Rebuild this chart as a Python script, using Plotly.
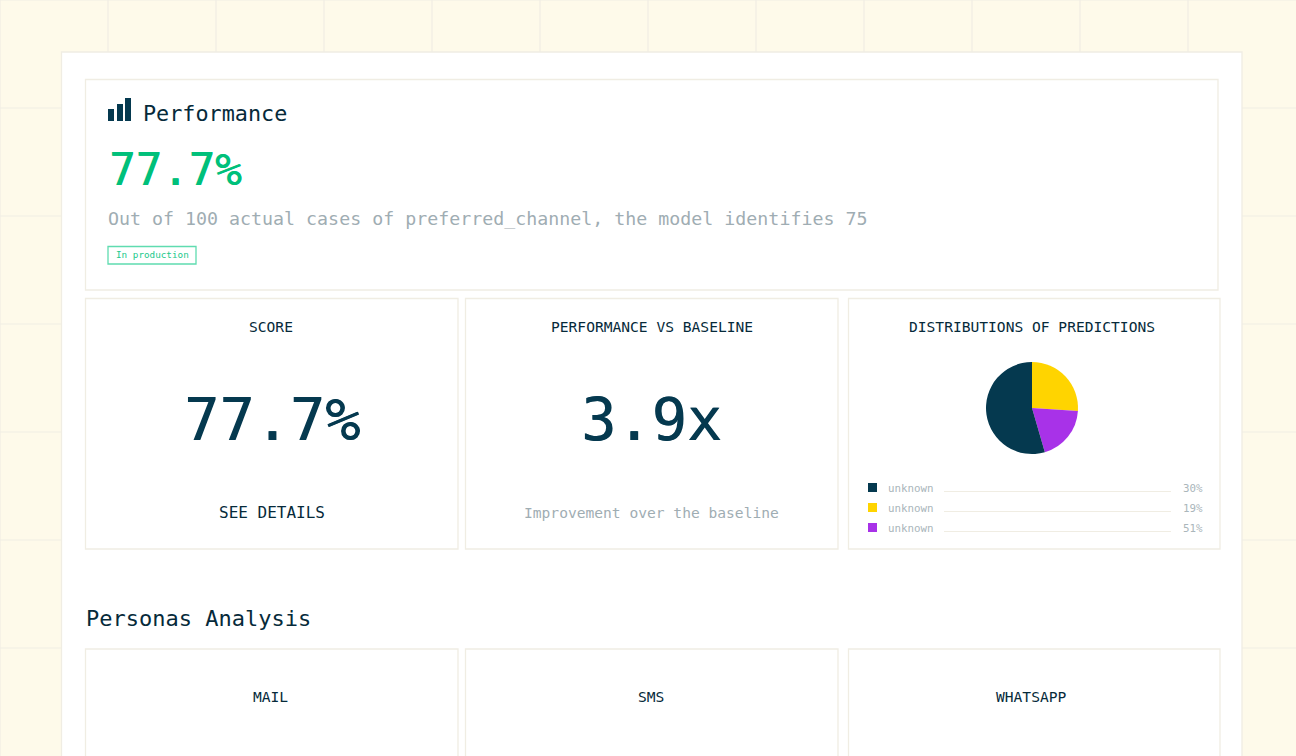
import plotly.graph_objects as go

W, H = 1296, 756
MONO = "DejaVu Sans Mono"

NAVY = "#05394f"
INK = "#062a3a"
GREEN = "#00c07a"
GREY = "#9fadb3"
PALE = "#aab6bb"
EDGE = "#f0ede3"
PAPER = "#fefaea"

# pie as drawn, clockwise from 12 o'clock
pie_labels = ["yellow", "purple", "navy"]
pie_values = [26, 19.5, 54.5]
pie_colors = ["#ffd400", "#a832e8", NAVY]

# legend below the pie (printed numbers do not match the slices in the original)
legend_names = ["unknown", "unknown", "unknown"]
legend_pcts = ["30%", "19%", "51%"]
legend_colors = [NAVY, "#ffd400", "#a832e8"]

persona_titles = ["MAIL", "SMS", "WHATSAPP"]

cards = [(85, 79, 1218, 290),
         (85, 298, 458, 549), (465, 298, 838, 549), (848, 298, 1220, 549),
         (85, 648.5, 458, 800), (465, 648.5, 838, 800), (848, 648.5, 1220, 800)]

shapes = []


def rect(x0, y0, x1, y1, fill="rgba(0,0,0,0)", line=None, width=1):
    shapes.append(dict(type="rect", xref="x", yref="y", x0=x0, y0=y0, x1=x1, y1=y1, layer="below",
                       fillcolor=fill, line=dict(color=line, width=width if line else 0)))


def hline(x0, x1, y, color=EDGE, width=1):
    shapes.append(dict(type="line", xref="x", yref="y", x0=x0, x1=x1, y0=y, y1=y, layer="below",
                       line=dict(color=color, width=width)))


# background grid
for gx in range(0, W, 108):
    shapes.append(dict(type="line", xref="x", yref="y", x0=gx, x1=gx, y0=0, y1=H, layer="below",
                       line=dict(color=EDGE, width=1.2)))
for gy in range(0, H, 108):
    hline(0, W, gy, width=1.2)

# white sheet and cards
rect(61.5, 52, 1242, 800, fill="white", line=EDGE, width=1.3)
for c in cards:
    rect(c[0] + .5, c[1] + .5, c[2], c[3], fill="white", line=EDGE, width=1.3)

# bar icon
rect(108, 109, 114, 121, fill=NAVY)
rect(117, 104, 123, 121, fill=NAVY)
rect(125, 98, 131, 121, fill=NAVY)

# badge
rect(108, 246.5, 196, 264, fill="white", line="#5fdcb0", width=1.3)

texts = []


def label(x, y, s, size, color=INK, anchor="left", heavy=0):
    font = dict(family=MONO, size=size, color=color)
    if heavy:
        # no medium weight in the installed mono faces, thicken the regular one a little
        font["shadow"] = f"{heavy}px 0 0 {color}"
    texts.append(dict(x=x, y=y, text=s, showarrow=False, xanchor=anchor, yanchor="middle",
                      xref="x", yref="y", borderpad=0, font=font))


label(142, 113, "Performance", 21.8)
label(108, 169, "77.7%", 44, GREEN, heavy=.8)
label(107, 218, "Out of 100 actual cases of preferred_channel, the model identifies 75", 18.3, GREY)
label(114.5, 254.5, "In production", 9.3, "#22c98c")

label(271, 326, "SCORE", 14.6, anchor="center")
label(651.5, 326, "PERFORMANCE VS BASELINE", 14.6, anchor="center")
label(1031.5, 326, "DISTRIBUTIONS OF PREDICTIONS", 14.6, anchor="center")

label(271.5, 420, "77.7%", 58.5, NAVY, "center", heavy=.8)
label(651, 420, "3.9x", 58.5, NAVY, "center", heavy=.8)

label(271.5, 512, "SEE DETAILS", 16, anchor="center")
label(651.5, 512, "Improvement over the baseline", 14.6, GREY, "center")

for i in range(len(legend_names)):
    ly = 488 + 20 * i
    rect(868, ly - 5, 877, ly + 4, fill=legend_colors[i])
    label(887, ly, legend_names[i], 10.8, PALE)
    hline(944, 1171, ly + 3.5)
    label(1204, ly, legend_pcts[i], 10.8, PALE, "right")

label(85, 618, "Personas Analysis", 22)

for i, t in enumerate(persona_titles):
    label([270.5, 650.5, 1031][i], 696, t, 14.6, anchor="center")

fig = go.Figure()
fig.add_trace(go.Pie(labels=pie_labels, values=pie_values, sort=False, direction="clockwise",
                     rotation=0, textinfo="none", hoverinfo="label+percent", showlegend=False,
                     marker=dict(colors=pie_colors, line=dict(width=0)),
                     domain=dict(x=[986 / W, 1078 / W], y=[1 - 454 / H, 1 - 362 / H])))

fig.update_layout(
    width=W, height=H, margin=dict(l=0, r=0, t=0, b=0),
    paper_bgcolor=PAPER, plot_bgcolor=PAPER,
    xaxis=dict(range=[0, W], visible=False, fixedrange=True),
    yaxis=dict(range=[H, 0], visible=False, fixedrange=True),
    shapes=shapes, annotations=texts,
)

fig.write_html("out.html", post_script="document.body.style.margin='0';", config=dict(displayModeBar=False))
